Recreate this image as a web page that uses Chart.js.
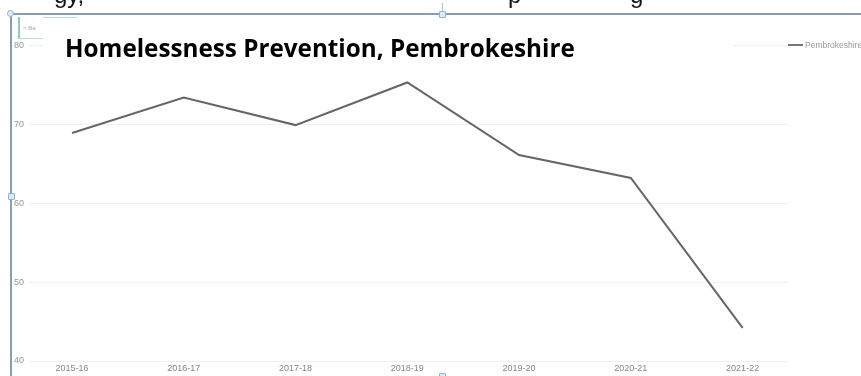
<!DOCTYPE html>
<html>
<head>
<meta charset="utf-8">
<script src="https://cdn.jsdelivr.net/npm/chart.js@4"></script>
<style>
  html, body { margin: 0; padding: 0; width: 861px; height: 376px; overflow: hidden; background: #fff; }
  #wrap { position: absolute; left: 0; top: 0; width: 861px; height: 376px; }
  canvas { position: absolute; left: 0; top: 0; }
  .frag { position: absolute; font-family: "Liberation Sans", Arial, sans-serif; font-size: 24px; line-height: 24px; color: #111; white-space: nowrap; }
  #hline { position: absolute; left: 11px; top: 13px; width: 850px; height: 2px; background: #8d9bb0; }
  #vline { position: absolute; left: 10px; top: 13px; width: 2px; height: 363px; background: #8d9bb0; }
  .handle { position: absolute; width: 5px; height: 5px; border: 1px solid #8fb4d8; background: #dbeaf7; border-radius: 1px; }
  #tick { position: absolute; left: 442px; top: 3px; width: 1px; height: 10px; background: #a9bfd6; }
  #btn { position: absolute; left: 18px; top: 17px; width: 25px; height: 22px; border-left: 2px solid #8fcbb6; border-bottom: 1px solid #b9e0d2; background: #fff; font-family: "Liberation Sans", Arial, sans-serif; font-size: 6px; color: #aaa; line-height: 22px; padding-left: 3px; box-sizing: border-box; }
  #btntop { position: absolute; left: 18px; top: 17px; width: 60px; height: 1px; background: #b9e0d2; }
  #titlebox { position: absolute; left: 43px; top: 30px; width: 690px; height: 32px; background: #fff; }
  #title { position: absolute; left: 65px; font-family: "Open Sans", sans-serif; font-weight: 700; color: #000; white-space: nowrap; }
  #legend { position: absolute; left: 788px; top: 39px; white-space: nowrap; font-family: "Liberation Sans", Arial, sans-serif; font-size: 8.5px; color: #9a9a9a; line-height: 12px; }
  #legend .sw { display: inline-block; width: 15px; height: 2px; background: #777; vertical-align: middle; margin-right: 2px; position: relative; top: -1px; }
</style>
</head>
<body>
<div id="wrap">
  <canvas id="c" width="861" height="376"></canvas>
  <div class="frag" style="left:54px; top:-17px;">gy,</div>
  <div class="frag" style="left:508px; top:-17px;">p</div>
  <div class="frag" style="left:630px; top:-17px;">g</div>
  <div id="hline"></div>
  <div id="vline"></div>
  <div id="tick"></div>
  <div class="handle" style="left:7px; top:10px; border-radius:4px;"></div>
  <div class="handle" style="left:439px; top:11px;"></div>
  <div class="handle" style="left:8px; top:193px;"></div>
  <div class="handle" style="left:439px; top:373px;"></div>
  <div id="btntop"></div>
  <div id="btn">&lt; Ba</div>
  <div id="titlebox"></div>
  <div id="title">Homelessness Prevention, Pembrokeshire</div>
  <div id="legend"><span class="sw"></span>Pembrokeshire</div>
</div>
<script>
const categories = ['2015-16', '2016-17', '2017-18', '2018-19', '2019-20', '2020-21', '2021-22'];
const pembrokeshire = [68.9, 73.4, 69.9, 75.3, 66.1, 63.2, 44.2];
const yTicks = [40, 50, 60, 70, 80];
const seriesLabel = 'Pembrokeshire';

// fit title width
(function () {
  const t = document.getElementById('title');
  const ctx = document.createElement('canvas').getContext('2d');
  ctx.font = '700 100px "Open Sans"';
  const w = ctx.measureText(t.textContent).width;
  const f = 100 * 510 / w;
  t.style.fontSize = f + 'px';
  t.style.lineHeight = f + 'px';
  t.style.top = (58 - 0.888 * f) + 'px';
})();

new Chart(document.getElementById('c'), {
  type: 'line',
  data: {
    datasets: [{
      label: seriesLabel,
      data: pembrokeshire.map((v, i) => ({ x: i, y: v })),
      borderColor: '#666666',
      borderWidth: 2,
      pointRadius: 0,
      tension: 0,
      fill: false
    }]
  },
  options: {
    responsive: false,
    animation: false,
    layout: { padding: { left: 12, top: 45.4, right: 73, bottom: 0 } },
    plugins: { legend: { display: false }, tooltip: { enabled: false }, title: { display: false } },
    scales: {
      x: {
        type: 'linear',
        min: -0.385,
        max: 6.406,
        afterBuildTicks: (axis) => { axis.ticks = categories.map((_, i) => ({ value: i })); },
        afterFit: (axis) => { axis.height = 15; },
        ticks: {
          callback: (v) => categories[v],
          font: { family: 'Liberation Sans', size: 9 },
          color: '#858585',
          padding: 2,
          maxRotation: 0,
          autoSkip: false
        },
        grid: { display: false, drawTicks: false },
        border: { display: false }
      },
      y: {
        min: 40,
        max: 80,
        afterBuildTicks: (axis) => { axis.ticks = yTicks.map(v => ({ value: v })); },
        afterFit: (axis) => { axis.width = 17; },
        ticks: {
          font: { family: 'Liberation Sans', size: 9 },
          color: '#959595',
          padding: 5
        },
        grid: { color: '#f0f0f0', lineWidth: 1, drawTicks: false },
        border: { display: false }
      }
    }
  }
});
</script>
</body>
</html>
